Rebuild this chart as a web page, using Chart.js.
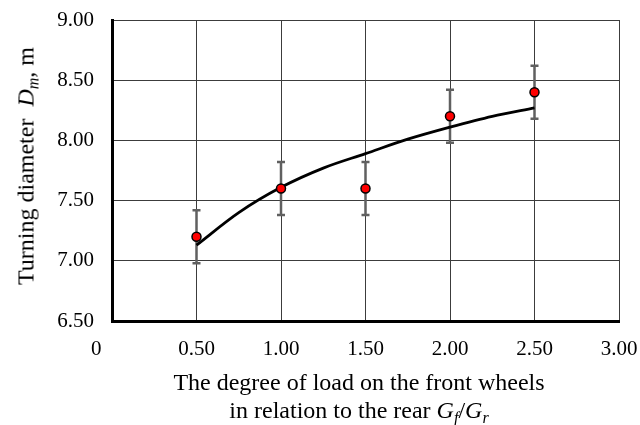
<!DOCTYPE html>
<html>
<head>
<meta charset="utf-8">
<script src="https://cdn.jsdelivr.net/npm/chart.js@4.4.1/dist/chart.umd.min.js"></script>
<style>
  html, body { margin: 0; padding: 0; background: #fff; }
  #wrap { position: relative; width: 640px; height: 425px; font-family: "Liberation Serif", "Times New Roman", serif; color: #000; }
  #chart { position: absolute; left: 0; top: 0; }
  .ytitle {
    position: absolute; left: 26px; top: 166px; font-size: 24px; white-space: nowrap;
    transform: translate(-50%, -50%) rotate(-90deg);
  }
  .xtitle {
    position: absolute; left: 359px; top: 368px; font-size: 24px; line-height: 28px;
    text-align: center; white-space: nowrap; transform: translateX(-50%);
  }
  sub { font-size: 16px; vertical-align: -5px; line-height: 0; }
</style>
</head>
<body>
<div id="wrap">
  <canvas id="chart" width="640" height="425"></canvas>
  <div class="ytitle">Turning diameter&nbsp; <i>D<sub>m</sub></i>, m</div>
  <div class="xtitle">The degree of load on the front wheels<br>in relation to the rear <i>G<sub>f</sub></i>/<i>G<sub>r</sub></i></div>
</div>
<script>
// measured points with error bars
const loadRatio = [0.5, 1.0, 1.5, 2.0, 2.5];
const diameter = [7.20, 7.60, 7.60, 8.20, 8.40];
const errMargin = [0.22, 0.22, 0.22, 0.22, 0.22];

// trend curve
const trendX = [0.5, 0.75, 1.0, 1.25, 1.5, 1.75, 2.0, 2.25, 2.5];
const trendY = [7.13, 7.40, 7.61, 7.77, 7.89, 8.01, 8.11, 8.20, 8.27];

// axis ticks
const xTicks = [0, 0.5, 1.0, 1.5, 2.0, 2.5, 3.0];
const yTicks = [6.5, 7.0, 7.5, 8.0, 8.5, 9.0];

const gridColor = '#3c3c3c';
const tickFont = { family: 'Liberation Serif', size: 21 };

const errorBars = {
    id: 'errorBars',
    beforeDatasetsDraw(chart) {
        const ctx = chart.ctx;
        const xs = chart.scales.x, ys = chart.scales.y;
        ctx.save();
        ctx.strokeStyle = '#606060';
        ctx.lineWidth = 2.5;
        loadRatio.forEach((v, i) => {
            const px = xs.getPixelForValue(v);
            const top = ys.getPixelForValue(diameter[i] + errMargin[i]);
            const bot = ys.getPixelForValue(diameter[i] - errMargin[i]);
            ctx.beginPath();
            ctx.moveTo(px, top); ctx.lineTo(px, bot);
            ctx.moveTo(px - 4, top); ctx.lineTo(px + 4, top);
            ctx.moveTo(px - 4, bot); ctx.lineTo(px + 4, bot);
            ctx.stroke();
        });
        ctx.restore();
    }
};

new Chart(document.getElementById('chart'), {
    type: 'scatter',
    data: {
        datasets: [{
            label: 'Measured',
            data: loadRatio.map((x, i) => ({ x: x, y: diameter[i] })),
            backgroundColor: '#ff0000',
            borderColor: '#000',
            borderWidth: 1.5,
            pointRadius: 4.5,
            order: 0
        }, {
            label: 'Trend',
            data: trendX.map((x, i) => ({ x: x, y: trendY[i] })),
            showLine: true,
            borderColor: '#000',
            borderWidth: 2.8,
            pointRadius: 0,
            cubicInterpolationMode: 'monotone',
            order: 1
        }]
    },
    options: {
        responsive: false,
        animation: false,
        layout: { padding: { left: 0, top: 20, right: 21, bottom: 0 } },
        plugins: { legend: { display: false }, tooltip: { enabled: false } },
        scales: {
            x: {
                type: 'linear',
                min: 0, max: 3,
                afterBuildTicks: (s) => { s.ticks = xTicks.map(v => ({ value: v })); },
                afterFit: (s) => { s.height = 104; s.paddingLeft = 0; s.paddingRight = 0; },
                ticks: {
                    color: '#000',
                    font: tickFont,
                    padding: 16,
                    maxRotation: 0,
                    autoSkip: false,
                    callback: (v) => v === 0 ? '0      ' : v.toFixed(2)
                },
                grid: { color: gridColor, lineWidth: 1, drawTicks: false },
                border: { color: '#000', width: 3 }
            },
            y: {
                min: 6.5, max: 9,
                afterBuildTicks: (s) => { s.ticks = yTicks.map(v => ({ value: v })); },
                afterFit: (s) => { s.width = 112; s.paddingTop = 0; s.paddingBottom = 0; },
                ticks: {
                    color: '#000',
                    font: tickFont,
                    padding: 18,
                    callback: (v) => v.toFixed(2)
                },
                grid: { color: gridColor, lineWidth: 1, drawTicks: false },
                border: { color: '#000', width: 3 }
            }
        }
    },
    plugins: [errorBars]
});
</script>
</body>
</html>
